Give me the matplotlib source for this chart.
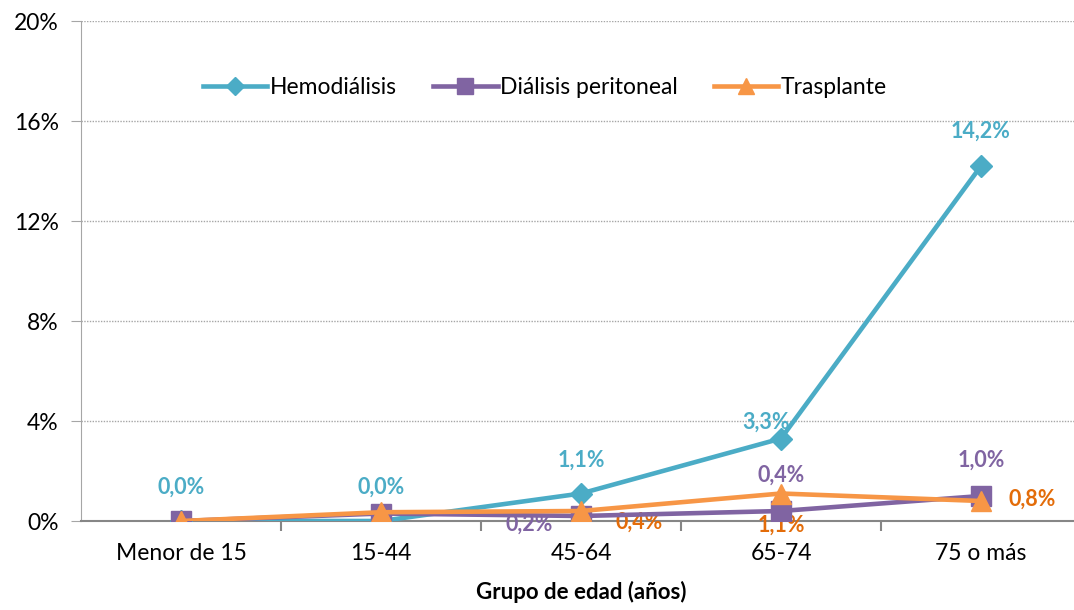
import matplotlib.pyplot as plt
from matplotlib.ticker import FuncFormatter, FixedLocator

plt.rcParams['font.family'] = ['Lato', 'DejaVu Sans']

grupos = ['Menor de 15', '15-44', '45-64', '65-74', '75 o más']
hemodialisis = [0.0, 0.0, 1.1, 3.3, 14.2]
dialisis_peritoneal = [0.0, 0.3, 0.2, 0.4, 1.0]
trasplante = [0.0, 0.35, 0.4, 1.1, 0.8]

c_hd = '#4BACC6'
c_dp = '#8064A2'
c_tx = '#F79646'
c_tx_lab = '#E36C09'

fig = plt.figure(figsize=(10.74, 6.10), dpi=100)
ax = fig.add_axes([81 / 1074, 1 - 521 / 610, 1000 / 1074, 500 / 610])

x = list(range(len(grupos)))
ax.plot(x, hemodialisis, color=c_hd, lw=3.3, marker='D', ms=11.5, label='Hemodiálisis', zorder=3)
ax.plot(x, dialisis_peritoneal, color=c_dp, lw=3.3, marker='s', ms=14, label='Diálisis peritoneal', zorder=4)
ax.plot(x, trasplante, color=c_tx, lw=3.3, marker='^', ms=15, label='Trasplante', zorder=5)

ax.set_xlim(-0.5, 4.5)
ax.set_ylim(0, 20)
ax.set_yticks([0, 4, 8, 12, 16, 20])
ax.yaxis.set_major_formatter(FuncFormatter(lambda v, p: f'{v:.0f}%'))
ax.tick_params(axis='y', labelsize=16.5, length=7, color='#A6A6A6', pad=9, labelcolor='black')
ax.grid(axis='y', color='#A6A6A6', ls=(0, (1, 1)), lw=1)

ax.set_xticks(x)
ax.set_xticklabels(grupos, fontsize=16.5)
ax.tick_params(axis='x', which='major', length=0, pad=16)
ax.xaxis.set_minor_locator(FixedLocator([0.5, 1.5, 2.5, 3.5]))
ax.tick_params(axis='x', which='minor', length=7, color='#868686', width=1.5)

for s in ['top', 'right']:
    ax.spines[s].set_visible(False)
ax.spines['left'].set_color('#A6A6A6')
ax.spines['left'].set_linestyle((0, (1, 1)))
ax.spines['bottom'].set_color('#868686')
ax.spines['bottom'].set_linewidth(1.5)

ax.set_xlabel('Grupo de edad (años)', fontsize=16, fontweight='bold', labelpad=12)

def pct(v):
    return f'{v:.1f}%'.replace('.', ',')

lab = dict(fontsize=15.5, fontweight='bold', ha='center', va='center')
# Hemodiálisis labels
ax.annotate(pct(hemodialisis[0]), (0, hemodialisis[0]), xytext=(0, 24), textcoords='offset points', color=c_hd, **lab)
ax.annotate(pct(hemodialisis[1]), (1, hemodialisis[1]), xytext=(0, 24), textcoords='offset points', color=c_hd, **lab)
ax.annotate(pct(hemodialisis[2]), (2, hemodialisis[2]), xytext=(0, 24), textcoords='offset points', color=c_hd, **lab)
ax.annotate(pct(hemodialisis[3]), (3, hemodialisis[3]), xytext=(-11, 12), textcoords='offset points', color=c_hd, **lab)
ax.annotate(pct(hemodialisis[4]), (4, hemodialisis[4]), xytext=(0, 25), textcoords='offset points', color=c_hd, **lab)
# Diálisis peritoneal labels
ax.annotate(pct(dialisis_peritoneal[2]), (2, dialisis_peritoneal[2]), xytext=(-37, -6), textcoords='offset points', color=c_dp, **lab)
ax.annotate(pct(dialisis_peritoneal[3]), (3, dialisis_peritoneal[3]), xytext=(0, 26), textcoords='offset points', color=c_dp, **lab)
ax.annotate(pct(dialisis_peritoneal[4]), (4, dialisis_peritoneal[4]), xytext=(0, 26), textcoords='offset points', color=c_dp, **lab)
# Trasplante labels
ax.annotate(pct(trasplante[2]), (2, trasplante[2]), xytext=(42, -8), textcoords='offset points', color=c_tx_lab, **lab)
ax.annotate(pct(trasplante[3]), (3, trasplante[3]), xytext=(0, -23), textcoords='offset points', color=c_tx_lab, **lab)
ax.annotate(pct(trasplante[4]), (4, trasplante[4]), xytext=(37, 1), textcoords='offset points', color=c_tx_lab, **lab)

leg = ax.legend(loc='center', bbox_to_anchor=(545 / 1074, 1 - 88 / 610), bbox_transform=fig.transFigure,
                ncol=3, frameon=False, fontsize=16.5, handlelength=2.8, handletextpad=0.1,
                columnspacing=1.6, markerscale=0.8)

fig.savefig('out.png', dpi=100)
